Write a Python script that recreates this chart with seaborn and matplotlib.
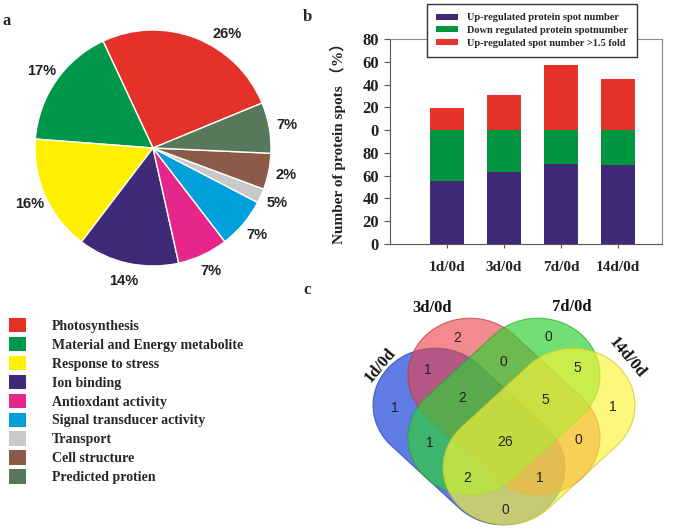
import matplotlib
matplotlib.use("Agg")
import matplotlib.pyplot as plt
import seaborn as sns
import pandas as pd
import numpy as np
from matplotlib.patches import Polygon, Patch

# ---- panel a: functional categories (pie) ----
categories = ["Photosynthesis", "Material and Energy metabolite", "Response to stress",
              "Ion binding", "Antioxdant activity", "Signal transducer activity",
              "Transport", "Cell structure", "Predicted protien"]
shares = [26, 17, 16, 14, 7, 7, 2, 5, 7]
share_labels = ["26%", "17%", "16%", "14%", "7%", "7%", "5%", "2%", "7%"]
pie_colors = ["#E4322B", "#00974A", "#FFF000", "#3F2A78", "#E5268A",
              "#00A0DA", "#C9C9C9", "#8C5A48", "#58785C"]

# ---- panel b: stacked bars ----
comparisons = ["1d/0d", "3d/0d", "7d/0d", "14d/0d"]
up_regulated = [55, 63, 70, 69]
down_regulated = [45, 37, 30, 31]
up_fold = [19, 31, 57, 45]
bar_series = ["Up-regulated protein spot number",
              "Down regulated protein spotnumber",
              "Up-regulated spot number >1.5 fold"]
bar_colors = ["#3F2A77", "#00963F", "#E5332A"]
ytick_values = [0, 20, 40, 60, 80, 100, 120, 140, 160, 180]
ytick_labels = ["0", "20", "40", "60", "80", "0", "20", "40", "60", "80"]

# ---- panel c: venn ----
venn_sets = ["1d/0d", "3d/0d", "7d/0d", "14d/0d"]
venn_regions = ["A", "B", "C", "D", "AB", "BC", "CD", "AC", "BD", "AD",
                "ABC", "BCD", "ACD", "ABD", "ABCD"]
venn_counts = [1, 2, 0, 1, 1, 0, 5, 1, 0, 0, 2, 5, 2, 1, 26]

SERIF = "Liberation Serif"
SANS = "Liberation Sans"

sns.set_style("white")
plt.rcParams["font.family"] = [SERIF, "Noto Sans CJK SC", "DejaVu Sans"]

W, H = 682, 530
fig = plt.figure(figsize=(W / 100, H / 100), dpi=100)


def fx(px):
    return px / W


def fy(py):
    return 1 - py / H


# pie
pie_r = 147.5
ax_pie = fig.add_axes([fx(153 - pie_r), fy(148 + pie_r), 2 * pie_r / W, 2 * pie_r / H])
wedges, texts = ax_pie.pie(shares, labels=share_labels, colors=pie_colors,
                           startangle=22.4, counterclock=True, labeldistance=1.15,
                           wedgeprops=dict(edgecolor="white", linewidth=1.0),
                           textprops=dict(family=SANS, fontweight="bold", fontsize=10.5,
                                          color="#222222", ha="center", va="center"))
# the first label sits a bit clockwise of its wedge middle in the original
th = np.deg2rad(57)
texts[0].set_position((1.15 * np.cos(th), 1.15 * np.sin(th)))
ax_pie.set_xlim(-1.25, 1.25)
ax_pie.set_ylim(-1.25, 1.25)
ax_pie.set_aspect("equal")

fig.legend([Patch(facecolor=c, edgecolor="none") for c in pie_colors], categories,
           loc="upper left", bbox_to_anchor=(fx(9), fy(318)), frameon=False,
           prop=dict(family=SERIF, weight="bold", size=10),
           handlelength=1.22, handleheight=1.22, handletextpad=1.85,
           labelspacing=0.29, borderpad=0, borderaxespad=0)

# bars
ax_bar = fig.add_axes([fx(390), fy(244), 272 / W, 205 / H])
df = pd.DataFrame({"comparison": comparisons, "up": up_regulated,
                   "down": down_regulated, "fold": up_fold})
df["lower_two"] = df["up"] + df["down"]
df["total"] = df["lower_two"] + df["fold"]
for col, color in zip(["total", "lower_two", "up"], bar_colors[::-1]):
    sns.barplot(data=df, x="comparison", y=col, color=color, saturation=1,
                width=0.6, ax=ax_bar, linewidth=0)
ax_bar.set_xlim(-1, 3.77)
ax_bar.set_ylim(0, 180)
ax_bar.set_yticks(ytick_values)
ax_bar.set_yticklabels(ytick_labels)
ax_bar.set_xlabel("")
ax_bar.set_ylabel("Number of protein spots （%）", fontsize=11, fontweight="bold",
                  family=[SERIF, "Noto Sans CJK SC"], color="#222222")
ax_bar.yaxis.set_label_coords(-0.16, 0.51)
for spine in ax_bar.spines.values():
    spine.set_visible(True)
    spine.set_color("#8a8a8a")
    spine.set_linewidth(0.8)
ax_bar.spines["left"].set_color("#555555")
ax_bar.spines["bottom"].set_color("#555555")
ax_bar.tick_params(axis="y", left=True, length=4, width=0.8, color="#555555", pad=4,
                   labelsize=12)
ax_bar.tick_params(axis="x", bottom=True, length=3, width=0.8, color="#555555", pad=9,
                   labelsize=11)
for lab in ax_bar.get_xticklabels() + ax_bar.get_yticklabels():
    lab.set_family(SERIF)
    lab.set_fontweight("bold")
    lab.set_color("#222222")

fig.legend([Patch(facecolor=c, edgecolor="none") for c in bar_colors], bar_series,
           loc="upper left", bbox_to_anchor=(fx(427), fy(4)),
           prop=dict(family=SERIF, weight="bold", size=7.5),
           handlelength=2.1, handleheight=0.5, handletextpad=0.8,
           labelspacing=0.35, borderpad=0.9, borderaxespad=0,
           fancybox=False, framealpha=1, edgecolor="#333333")

# venn: four capsule shapes
ax_v = fig.add_axes([fx(330), 0, (W - 330) / W, 250 / H])
ax_v.set_xlim(330, W)
ax_v.set_ylim(H, 280)
ax_v.axis("off")


def capsule(cx, cy, angle, half_len=48, radius=62, ky=0.92, n=80, **kw):
    t = np.linspace(-np.pi / 2, np.pi / 2, n)
    right = np.column_stack([half_len + radius * np.cos(t), radius * np.sin(t)])
    left = np.column_stack([-half_len - radius * np.cos(t), -radius * np.sin(t)])
    pts = np.vstack([right, left])
    a = np.deg2rad(angle)
    rot = np.array([[np.cos(a), -np.sin(a)], [np.sin(a), np.cos(a)]])
    pts = pts @ rot.T
    pts[:, 1] *= ky
    pts += [cx, cy]
    return Polygon(pts, closed=True, **kw)


venn_shapes = [
    ((469, 436.5), 45, (0.16, 0.31, 0.86), 0.75),
    ((504, 406.5), 45, (0.92, 0.26, 0.29), 0.62),
    ((504, 406.5), -45, (0.18, 0.82, 0.20), 0.68),
    ((539, 436.5), -45, (0.98, 0.96, 0.22), 0.66),
]
for (cx, cy), ang, col, alpha in venn_shapes:
    ax_v.add_patch(capsule(cx, cy, ang, facecolor=col, alpha=alpha, edgecolor="none"))
    edge = tuple(0.8 * c for c in col)
    ax_v.add_patch(capsule(cx, cy, ang, facecolor="none", edgecolor=edge,
                           linewidth=0.8, alpha=0.7))

region_xy = {"A": (395, 408), "B": (457, 338), "C": (548, 337), "D": (613, 407),
             "AB": (428, 370), "BC": (503, 362), "CD": (577, 368), "AC": (430, 443),
             "BD": (578, 440), "AD": (505, 510), "ABC": (462, 398), "BCD": (545, 400),
             "ACD": (467, 478), "ABD": (540, 478), "ABCD": (505, 442)}
for reg, n in zip(venn_regions, venn_counts):
    x, y = region_xy[reg]
    ax_v.text(x, y, str(n), ha="center", va="center", family=SANS, fontsize=10,
              color="#222222")

set_label_pos = [((380, 365), 50), ((432, 308), 0), ((572, 307), 0), ((627, 358), -50)]
for name, ((x, y), rot) in zip(venn_sets, set_label_pos):
    ax_v.text(x, y, name, ha="center", va="center", rotation=rot, family=SERIF,
              fontweight="bold", fontsize=12, color="#111111")

# panel letters
for letter, (x, y) in zip("abc", [(7, 21), (307, 17), (307, 290)]):
    fig.text(fx(x), fy(y), letter, ha="center", va="center", family=SERIF,
             fontweight="bold", fontsize=12)

fig.savefig("out.png", dpi=100)
